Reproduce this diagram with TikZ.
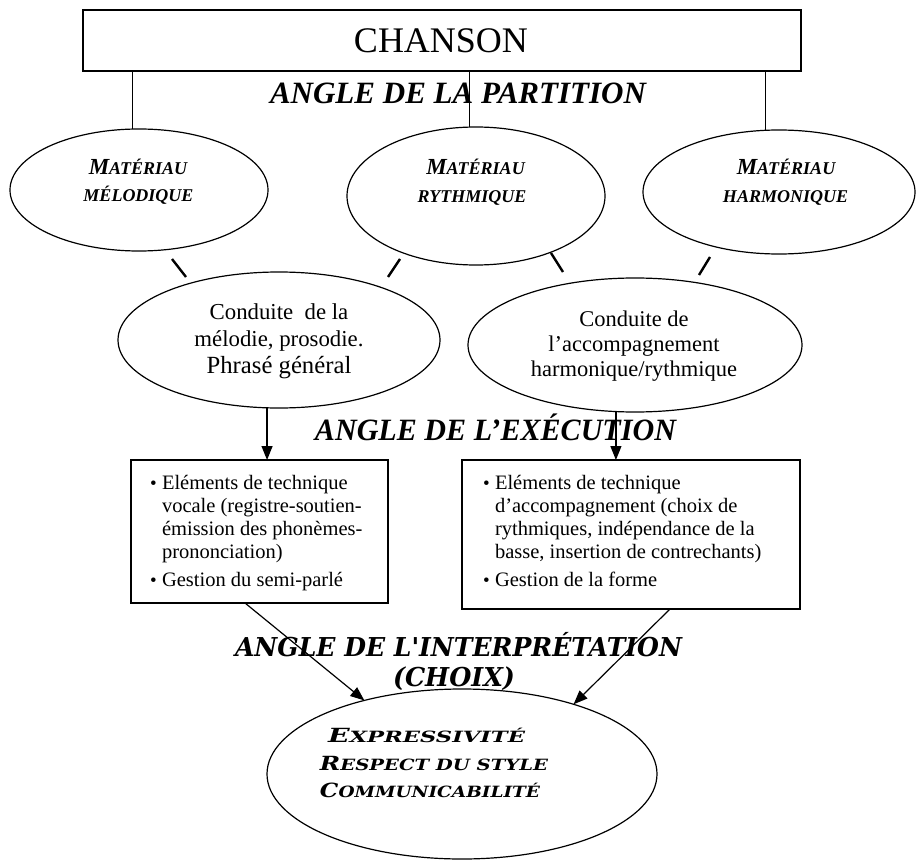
\documentclass[tikz,border=0pt]{standalone}
\usepackage{fontspec}
\usepackage{graphicx}
\setmainfont{Liberation Serif}
\newfontfamily\wideserif{DejaVu Serif}
\usetikzlibrary{shapes.geometric,arrows.meta}
\newcommand{\mysc}[2]{{\fontsize{23}{27}\selectfont #1}{\fontsize{18}{22}\selectfont #2}}
\newcommand{\mysmall}[1]{{\fontsize{18}{22}\selectfont #1}}
\newcommand{\myscb}[2]{{\fontsize{19.5}{22}\selectfont #1}{\fontsize{15.5}{18}\selectfont #2}}
\newcommand{\mybul}{\makebox[12pt][l]{\raisebox{0pt}{\fontsize{19}{19}\selectfont\textbullet}}}
\newcommand{\myind}{\hspace*{12pt}}
\begin{document}
\begin{tikzpicture}[x=1pt,y=-1pt,
  ell/.style={draw, ellipse, line width=1.2pt, inner sep=0pt, outer sep=0pt},
  frame/.style={draw, rectangle, line width=1.3pt, inner sep=0pt, outer sep=0pt},
  lbl/.style={inner sep=0pt, outer sep=0pt, anchor=base},
  titlefont/.style={font=\fontsize{31}{34}\selectfont\bfseries\itshape},
  matfont/.style={font=\bfseries\itshape},
  boxtext/.style={inner sep=0pt, outer sep=0pt, anchor=north west, align=left, font=\fontsize{20.5}{22.8}\selectfont},
  link/.style={line width=1pt},
  tickmark/.style={line width=2.4pt},
  arr/.style={line width=1.2pt, -{Triangle[length=14pt,width=11pt]}}
]
\useasboundingbox (0,0) rectangle (918,861);

% top box
\node[frame, minimum width=718pt, minimum height=61pt] (chanson) at (442,40.5) {};
\node[lbl, font=\fontsize{36}{40}\selectfont] (chansont) at (441,53) {CHANSON};

% titles
\node[lbl, titlefont] (apart) at (458,104) {\resizebox{376pt}{\height}{ANGLE DE LA PARTITION}};
\node[lbl, titlefont] (aexec) at (495.5,440) {\resizebox{361pt}{\height}{ANGLE DE L’EXÉCUTION}};
\node[lbl, font=\wideserif\bfseries\itshape\fontsize{26}{30}\selectfont] (ainter) at (458.5,656) {\resizebox{447pt}{\height}{ANGLE DE L'INTERPRÉTATION}};
\node[lbl, font=\wideserif\bfseries\itshape\fontsize{26}{30}\selectfont] (achoix) at (454,686) {\resizebox{122pt}{\height}{(CHOIX)}};

% first row ellipses
\node[ell, minimum width=258pt, minimum height=122pt] (e1) at (139,190) {};
\node[ell, minimum width=258pt, minimum height=138pt] (e2) at (476,196) {};
\node[ell, minimum width=272pt, minimum height=124pt] (e3) at (779,192) {};
\node[lbl, matfont] (e1a) at (138,175) {\mysc{M}{ATÉRIAU}};
\node[lbl, matfont] (e1b) at (138.5,202) {\mysmall{MÉLODIQUE}};
\node[lbl, matfont] (e2a) at (475.5,175) {\mysc{M}{ATÉRIAU}};
\node[lbl, matfont] (e2b) at (472,203) {\mysmall{RYTHMIQUE}};
\node[lbl, matfont] (e3a) at (786,175) {\mysc{M}{ATÉRIAU}};
\node[lbl, matfont] (e3b) at (785.5,203) {\mysmall{HARMONIQUE}};

% second row ellipses
\node[ell, minimum width=322pt, minimum height=136pt] (e4) at (279,340) {};
\node[ell, minimum width=334pt, minimum height=134pt] (e5) at (635,345) {};
\node[lbl, font=\fontsize{22.8}{26}\selectfont] (e4a) at (279,319) {Conduite\ \ de la};
\node[lbl, font=\fontsize{22.8}{26}\selectfont] (e4b) at (279,346) {mélodie, prosodie.};
\node[lbl, font=\fontsize{24.7}{28}\selectfont] (e4c) at (279,373) {Phrasé général};
\node[lbl, font=\fontsize{22.5}{26}\selectfont] (e5a) at (634,326) {Conduite de};
\node[lbl, font=\fontsize{22.5}{26}\selectfont] (e5b) at (634,351) {l’accompagnement};
\node[lbl, font=\fontsize{22.5}{26}\selectfont] (e5c) at (634,376) {harmonique/rythmique};

% boxes
\node[frame, minimum width=257pt, minimum height=143pt] (b1) at (259.5,531.5) {};
\node[frame, minimum width=338pt, minimum height=149pt] (b2) at (631,534.5) {};
\node[boxtext] (b1t) at (150,474) {\strut\mybul Eléments de technique\\
  \myind vocale (registre-soutien-\\
  \myind émission des phonèmes-\\
  \myind prononciation)\\[5pt]
  \mybul Gestion du semi-parlé};
\node[boxtext] (b2t) at (483,474) {\strut\mybul Eléments de technique\\
  \myind d’accompagnement (choix de\\
  \myind rythmiques, indépendance de la\\
  \myind basse, insertion de contrechants)\\[5pt]
  \mybul Gestion de la forme};

% bottom ellipse
\node[ell, minimum width=390pt, minimum height=170pt] (e6) at (462,774) {};
\node[lbl, font=\wideserif\bfseries\itshape] (e6a) at (426.5,742) {\resizebox{197pt}{\height}{\myscb{E}{XPRESSIVITÉ}}};
\node[lbl, font=\wideserif\bfseries\itshape] (e6b) at (434,770) {\resizebox{228pt}{\height}{\myscb{R}{ESPECT DU STYLE}}};
\node[lbl, font=\wideserif\bfseries\itshape] (e6c) at (430,797) {\resizebox{220pt}{\height}{\myscb{C}{OMMUNICABILITÉ}}};

% connectors from top box
\draw[link] (chanson.south -| e1.96.6) -- (e1.96.6);
\draw[link] (chanson.south -| e2.95.8) -- (e2.95.8);
\draw[link] (chanson.south -| e3.102.8) -- (e3.102.8);

% short tick marks
\coordinate (k1a) at (172,259); \coordinate (k1b) at (186,277);
\coordinate (k2a) at (400,259); \coordinate (k2b) at (388,277);
\coordinate (k3a) at (551,253); \coordinate (k3b) at (563,272);
\coordinate (k4a) at (710,257); \coordinate (k4b) at (699,275);
\draw[tickmark] (k1a) -- (k1b);
\draw[tickmark] (k2a) -- (k2b);
\draw[tickmark] (k3a) -- (k3b);
\draw[tickmark] (k4a) -- (k4b);

% arrows to boxes
\draw[arr] (e4.260) -- (e4.260 |- b1.north);
\draw[arr] (e5.254.9) -- (e5.254.9 |- b2.north);

% arrows to bottom ellipse
\draw[arr] ([xshift=-14.5pt]b1.south) -- (e6.143.6);
\draw[arr] ([xshift=39pt]b2.south) -- (e6.32.2);
\end{tikzpicture}
\end{document}
